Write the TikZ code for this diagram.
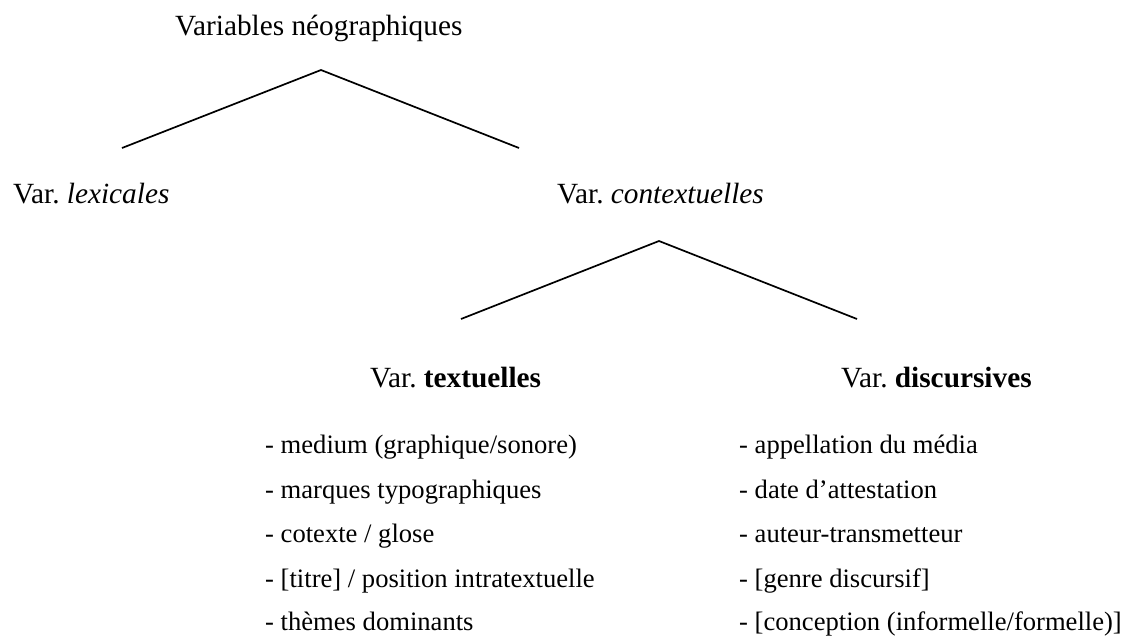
\documentclass[tikz,border=0pt]{standalone}
\usepackage{fontspec}
\setmainfont{Liberation Serif}
\frenchspacing
\begin{document}
\begin{tikzpicture}[x=1pt,y=-1pt,
  head/.style={inner sep=0pt,anchor=base west,font=\fontsize{29.3}{34}\selectfont},
  item/.style={inner sep=0pt,anchor=base west,font=\fontsize{26.6}{31}\selectfont},
  branch/.style={line width=1.7pt}]
\useasboundingbox (0,0) rectangle (1125,641);
\node[head] (root) at (175,35) {Variables néographiques};
\node[head] (lex) at (13,203) {Var.\ \textit{lexicales}};
\node[head] (ctx) at (557,203) {Var.\ \textit{contextuelles}};
\node[head] (txt) at (370,387) {Var.\ \textbf{textuelles}};
\node[head] (dis) at (841,387) {Var.\ \textbf{discursives}};
\coordinate (a1) at (321,70);
\coordinate (l1) at (122,148);
\coordinate (r1) at (519,148);
\draw[branch] (l1) -- (a1) -- (r1);
\coordinate (a2) at (659,241);
\coordinate (l2) at (461,319);
\coordinate (r2) at (857,319);
\draw[branch] (l2) -- (a2) -- (r2);
\node[item] (t1) at (265,453) {- medium (graphique/sonore)};
\node[item] (t2) at (265,498) {- marques typographiques};
\node[item] (t3) at (265,542) {- cotexte / glose};
\node[item] (t4) at (265,587) {- [titre] / position intratextuelle};
\node[item] (t5) at (265,630) {- thèmes dominants};
\node[item] (d1) at (739,453) {- appellation du média};
\node[item] (d2) at (739,498) {- date d’attestation};
\node[item] (d3) at (739,542) {- auteur-transmetteur};
\node[item] (d4) at (739,587) {- [genre discursif]};
\node[item] (d5) at (739,630) {- [conception (informelle/formelle)]};
\end{tikzpicture}
\end{document}
